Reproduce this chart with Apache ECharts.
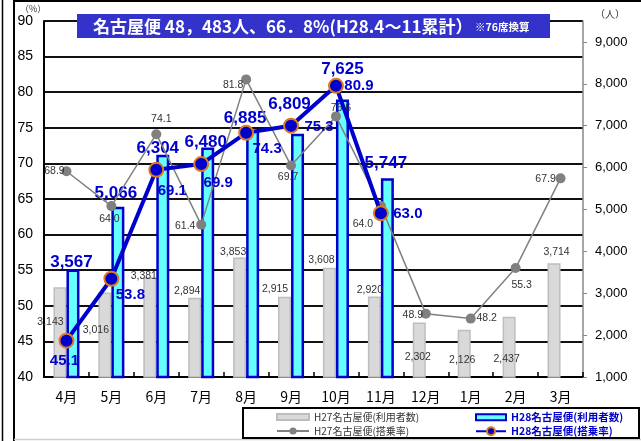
<!DOCTYPE html>
<html>
<head>
<meta charset="utf-8">
<script src="https://cdn.jsdelivr.net/npm/echarts@6/dist/echarts.min.js"></script>
<style>
html,body{margin:0;padding:0;background:#fff;}
#chart{width:641px;height:441px;}
</style>
</head>
<body>
<div id="chart"></div>
<script>
// ---- data ----
const months = ['4月','5月','6月','7月','8月','9月','10月','11月','12月','1月','2月','3月'];
const h27Users = [3143, 3016, 3381, 2894, 3853, 2915, 3608, 2920, 2302, 2126, 2437, 3714];
const h27Rate  = [68.9, 64.0, 74.1, 61.4, 81.8, 69.7, 76.6, 64.0, 48.9, 48.2, 55.3, 67.9];
const h28Users = [3567, 5066, 6304, 6480, 6885, 6809, 7625, 5747];
const h28Rate  = [45.1, 53.8, 69.1, 69.9, 74.3, 75.3, 80.9, 63.0];
const rightTicks = [1000, 2000, 3000, 4000, 5000, 6000, 7000, 8000, 9000];
const seriesNames = ['H27名古屋便(利用者数)', 'H28名古屋便(利用者数)', 'H27名古屋便(搭乗率)', 'H28名古屋便(搭乗率)'];
const titleText = '名古屋便 48，483人、66．8%(H28.4～11累計）';
const titleNote = '※76席換算';

// ---- label placement (style) ----
const h27BarLabelOffset = [[-9.5,40],[-9,43],[-6,4],[-7.5,-1],[-6.5,0],[-9.5,-2],[-8,-2],[-4.5,-1],[-1.5,40],[-2,36],[-2.5,48],[2.5,-6]];
const h28BarLabelOffset = [[-1.5,1.5],[-2,-5],[-5,2],[-2,3.5],[-7.5,-4],[-8,-21],[0,-21.5],[-1.5,-6.5]];
const h27RateLabelOffset = [[-12,0],[-2,13],[5,-15],[-16,1],[-13,6],[-3,12],[5,-8],[-18,18],[-13,1],[16,-1],[6,17],[-15,1]];
const h28RateLabelOffset = [[-2,20],[19,16.5],[16,21.5],[17,19],[21,16],[28,1],[23,0],[27,1]];

const BLUE = '#0000cc';
const numFont = 'Liberation Sans, Arial, sans-serif';
const jpFont = 'Noto Sans CJK JP, sans-serif';
const fmtK = v => Number(v).toLocaleString('en-US');

const chart = echarts.init(document.getElementById('chart'), null, {renderer: 'canvas'});

const option = {
  animation: false,
  backgroundColor: '#fff',
  grid: {left: 44, right: 58, top: 21, bottom: 64, containLabel: false},
  xAxis: {
    type: 'category',
    data: months,
    boundaryGap: true,
    axisLine: {lineStyle: {color: '#000', width: 2}},
    axisTick: {show: true, inside: true, length: 5, lineStyle: {color: '#000', width: 1.5}},
    axisLabel: {color: '#000', fontSize: 14, fontFamily: jpFont, margin: 13}
  },
  yAxis: [
    {
      type: 'value', min: 40, max: 90, interval: 5, position: 'left',
      axisLine: {show: true, lineStyle: {color: '#000', width: 2}},
      axisTick: {show: false},
      axisLabel: {color: '#000', fontSize: 14, fontFamily: numFont, margin: 11},
      splitLine: {show: true, lineStyle: {color: '#111', width: 1.8}}
    },
    {
      type: 'value', min: 1000, max: 9500, interval: 1000, position: 'right',
      axisLine: {show: true, lineStyle: {color: '#888', width: 1.5}},
      axisTick: {show: true, length: 4, lineStyle: {color: '#888'}, customValues: rightTicks},
      axisLabel: {color: '#000', fontSize: 13, fontFamily: numFont, margin: 12,
        formatter: v => fmtK(v), customValues: rightTicks},
      splitLine: {show: false}
    }
  ],
  legend: [
    {data: [seriesNames[0]], left: 271, top: 407, icon: 'rect', itemWidth: 32, itemHeight: 6,
      textStyle: {color: '#333', fontSize: 10, fontFamily: jpFont}},
    {data: [seriesNames[2]], left: 271, top: 421, itemWidth: 32, itemHeight: 9,
      textStyle: {color: '#333', fontSize: 10, fontFamily: jpFont}},
    {data: [seriesNames[1]], left: 470, top: 407, icon: 'rect', itemWidth: 30, itemHeight: 6,
      textStyle: {color: BLUE, fontSize: 10.5, fontWeight: 'bold', fontFamily: jpFont}},
    {data: [seriesNames[3]], left: 470, top: 421, itemWidth: 30, itemHeight: 10,
      textStyle: {color: BLUE, fontSize: 10.5, fontWeight: 'bold', fontFamily: jpFont}}
  ],
  series: [
    {
      name: seriesNames[0], type: 'bar', yAxisIndex: 1, barWidth: 13, barGap: '0%',
      itemStyle: {color: '#d9d9d9', borderColor: '#bdbdbd', borderWidth: 1.5},
      data: h27Users.map((v, i) => ({value: v, label: {offset: h27BarLabelOffset[i]}})),
      label: {show: true, position: 'top', distance: 0, color: '#333', fontSize: 10.5,
        fontFamily: numFont, formatter: p => fmtK(p.value)}
    },
    {
      name: seriesNames[1], type: 'bar', yAxisIndex: 1, barWidth: 13, barGap: '0%',
      itemStyle: {color: '#66ffff', borderColor: BLUE, borderWidth: 2.5},
      data: h28Users.map((v, i) => ({value: v, label: {offset: h28BarLabelOffset[i]}})),
      label: {show: true, position: 'top', distance: 0, color: BLUE, fontSize: 17,
        fontWeight: 'bold', fontFamily: numFont, formatter: p => fmtK(p.value)}
    },
    {
      name: seriesNames[2], type: 'line', yAxisIndex: 0,
      symbol: 'circle', symbolSize: 10,
      lineStyle: {color: '#808080', width: 1.5},
      itemStyle: {color: '#808080'},
      data: h27Rate.map((v, i) => ({value: v, label: {offset: h27RateLabelOffset[i]}})),
      label: {show: true, position: 'inside', color: '#333', fontSize: 10.5,
        fontFamily: numFont, formatter: p => Number(p.value).toFixed(1)}
    },
    {
      name: seriesNames[3], type: 'line', yAxisIndex: 0,
      symbol: 'circle', symbolSize: 14,
      lineStyle: {color: BLUE, width: 4},
      itemStyle: {color: BLUE, borderColor: '#e07a20', borderWidth: 2},
      data: h28Rate.map((v, i) => ({value: v, label: {offset: h28RateLabelOffset[i]}})),
      label: {show: true, position: 'inside', color: BLUE, fontSize: 15, fontWeight: 'bold',
        fontFamily: numFont, formatter: p => Number(p.value).toFixed(1)},
      z: 5
    }
  ],
  graphic: [
    {type: 'line', shape: {x1: 2.5, y1: 0, x2: 2.5, y2: 441}, style: {stroke: '#000', lineWidth: 1.5}, silent: true},
    {type: 'line', shape: {x1: 14, y1: 0, x2: 14, y2: 441}, style: {stroke: '#000', lineWidth: 2}, silent: true},
    {type: 'line', shape: {x1: 14, y1: 1, x2: 641, y2: 1}, style: {stroke: '#000', lineWidth: 2}, silent: true},
    {type: 'line', shape: {x1: 14, y1: 439.5, x2: 641, y2: 439.5}, style: {stroke: '#cfcfcf', lineWidth: 1.5}, silent: true},
    {type: 'rect', shape: {x: 243, y: 408, width: 396, height: 30}, style: {fill: 'none', stroke: '#000', lineWidth: 2}, silent: true, z: 0},
    {type: 'rect', shape: {x: 77, y: 14, width: 473, height: 24}, style: {fill: '#3333cc'}, silent: true, z: 10},
    {type: 'text', x: 93, y: 26.5, z: 11, silent: true,
      style: {text: titleText, fill: '#fff', font: 'bold 17px ' + jpFont, verticalAlign: 'middle'}},
    {type: 'text', x: 475, y: 27, z: 11, silent: true,
      style: {text: titleNote, fill: '#fff', font: 'bold 10.5px ' + jpFont, verticalAlign: 'middle'}},
    {type: 'text', x: 20, y: 9, silent: true,
      style: {text: '（%）', fill: '#333', font: '9px ' + jpFont, verticalAlign: 'middle'}},
    {type: 'text', x: 595, y: 14, silent: true,
      style: {text: '（人）', fill: '#333', font: '10px ' + jpFont, verticalAlign: 'middle'}}
  ]
};
chart.setOption(option);
</script>
</body>
</html>
